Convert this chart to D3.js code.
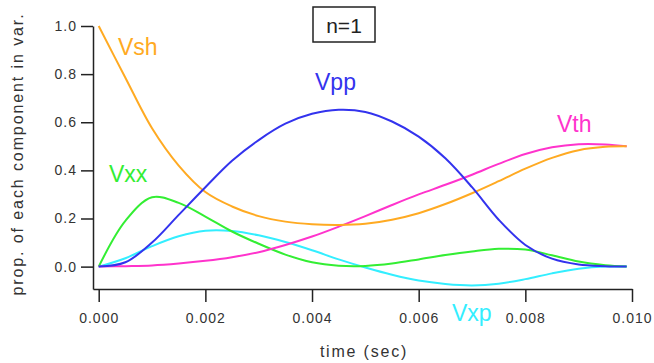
<!DOCTYPE html>
<html>
<head>
<meta charset="utf-8">
<script src="https://cdn.jsdelivr.net/npm/d3@7/dist/d3.min.js"></script>
<style>
	body { margin: 0; background: #fff; }
	text { font-family: "Liberation Sans", Arial, sans-serif; }
</style>
</head>
<body>
<div id="plot"></div>
<script>

var times = [0, 0.0005, 0.001, 0.0015, 0.002, 0.0025, 0.003, 0.0035, 0.004, 0.0045, 0.005,
	0.0055, 0.006, 0.0065, 0.007, 0.0075, 0.008, 0.0085, 0.009, 0.0095, 0.0099];

var vsh = [1.0, 0.785, 0.575, 0.42, 0.31, 0.25, 0.21, 0.187, 0.176, 0.173, 0.178,
	0.195, 0.222, 0.26, 0.305, 0.355, 0.407, 0.452, 0.484, 0.498, 0.5];
var vpp = [0, 0.018, 0.10, 0.215, 0.33, 0.44, 0.526, 0.594, 0.635, 0.652, 0.643,
	0.603, 0.54, 0.45, 0.33, 0.195, 0.09, 0.033, 0.009, 0.002, 0];
var vth = [0, 0.002, 0.005, 0.013, 0.024, 0.039, 0.06, 0.09, 0.125, 0.166, 0.21,
	0.256, 0.30, 0.34, 0.382, 0.427, 0.468, 0.496, 0.509, 0.508, 0.5];
var vxx = [0, 0.19, 0.288, 0.265, 0.208, 0.146, 0.095, 0.05, 0.018, 0.004, 0.003,
	0.013, 0.03, 0.048, 0.063, 0.074, 0.071, 0.047, 0.021, 0.006, 0];
var vxp = [0, 0.035, 0.085, 0.126, 0.149, 0.148, 0.13, 0.102, 0.068, 0.03, -0.004,
	-0.034, -0.058, -0.072, -0.078, -0.071, -0.052, -0.028, -0.009, 0, 0];

var xTicks = [0, 0.002, 0.004, 0.006, 0.008, 0.010];
var yTicks = [0, 0.2, 0.4, 0.6, 0.8, 1.0];

var series = [
	{ name: "Vxp", values: vxp, color: "#33eeff", lx: 452, ly: 321 },
	{ name: "Vxx", values: vxx, color: "#33ee33", lx: 109, ly: 182 },
	{ name: "Vth", values: vth, color: "#ff33cc", lx: 557, ly: 132 },
	{ name: "Vsh", values: vsh, color: "#ffaa22", lx: 118, ly: 55 },
	{ name: "Vpp", values: vpp, color: "#3333ee", lx: 315, ly: 90 }
];

var svg = d3.select("#plot")
	.append("svg")
	.attr("width", 654)
	.attr("height", 363);

var x = d3.scaleLinear().domain([-0.000107, 0.010]).range([93, 632]);
var y = d3.scaleLinear().domain([-0.093, 1.0]).range([289, 26]);

// axes
var xAxis = svg.append("g")
	.attr("transform", "translate(0,289)")
	.call(d3.axisBottom(x).tickValues(xTicks).tickFormat(d3.format(".3f")).tickSize(13).tickSizeOuter(0).tickPadding(11));

var yAxis = svg.append("g")
	.attr("transform", "translate(93,0)")
	.call(d3.axisLeft(y).tickValues(yTicks).tickFormat(d3.format(".1f")).tickSize(12).tickSizeOuter(0).tickPadding(4));

[xAxis, yAxis].forEach(function(g){
	g.select(".domain").attr("stroke", "#222").attr("stroke-width", 1.5);
	g.selectAll(".tick line").attr("stroke", "#222").attr("stroke-width", 1.5);
	g.selectAll(".tick text")
		.attr("fill", "#333")
		.style("font-size", "14px")
		.style("letter-spacing", "1px");
});

svg.append("text")
	.text("time (sec)")
	.attr("x", 364)
	.attr("y", 357)
	.attr("text-anchor", "middle")
	.attr("fill", "#333")
	.style("font-size", "16px")
	.style("letter-spacing", "1.8px");

svg.append("text")
	.text("prop. of each component in var.")
	.attr("transform", "translate(23,154) rotate(-90)")
	.attr("text-anchor", "middle")
	.attr("fill", "#333")
	.style("font-size", "16px")
	.style("letter-spacing", "1.9px");

// curves
var line = d3.line()
	.x(function(d){ return x(d[0]); })
	.y(function(d){ return y(d[1]); })
	.curve(d3.curveCatmullRom.alpha(0.5));

series.forEach(function(s){
	svg.append("path")
		.datum(times.map(function(t, i){ return [t, s.values[i]]; }))
		.attr("d", line)
		.attr("fill", "none")
		.attr("stroke", s.color)
		.attr("stroke-width", 2);

	svg.append("text")
		.text(s.name)
		.attr("x", s.lx)
		.attr("y", s.ly)
		.attr("fill", s.color)
		.style("font-size", "23px");
});

// n=1 box
svg.append("rect")
	.attr("x", 313)
	.attr("y", 7)
	.attr("width", 62)
	.attr("height", 35)
	.attr("fill", "none")
	.attr("stroke", "#222")
	.attr("stroke-width", 1.5);

svg.append("text")
	.text("n=1")
	.attr("x", 344)
	.attr("y", 33)
	.attr("text-anchor", "middle")
	.attr("fill", "#222")
	.style("font-size", "21px");

</script>
</body>
</html>
